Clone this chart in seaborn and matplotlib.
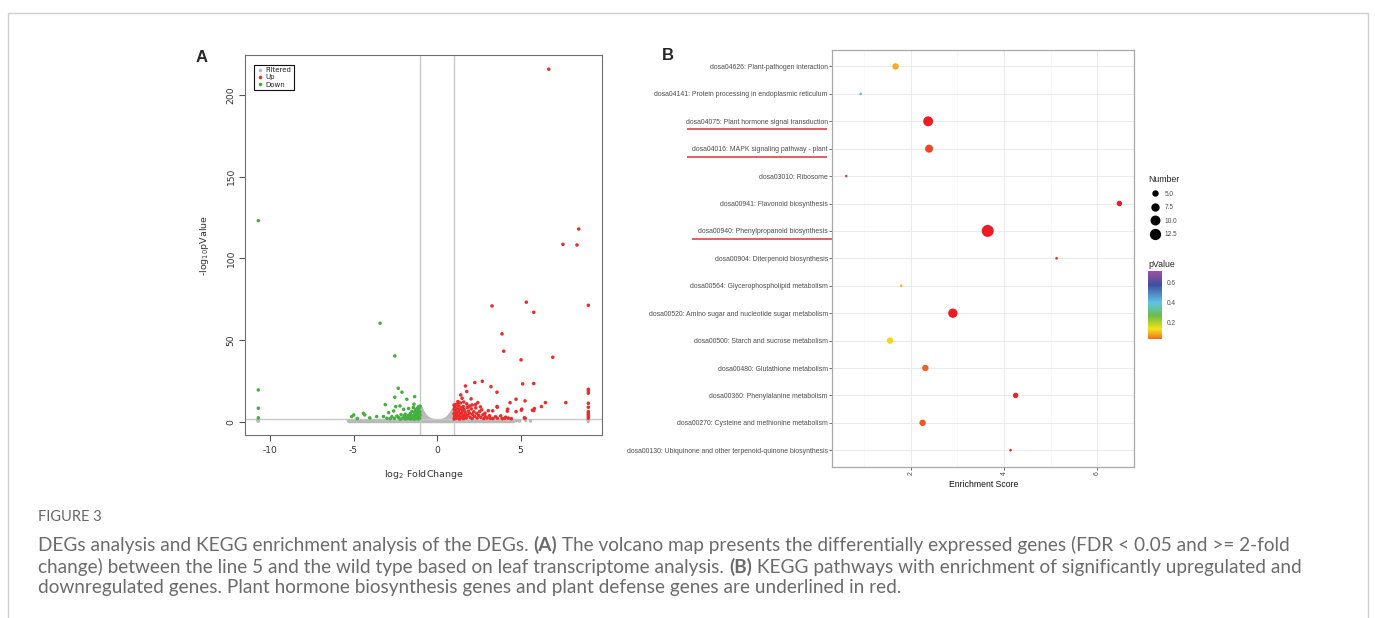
import matplotlib
matplotlib.use("Agg")
import matplotlib.pyplot as plt
import matplotlib.transforms as mtransforms
from matplotlib.colors import LinearSegmentedColormap, Normalize
from matplotlib.cm import ScalarMappable
from matplotlib.lines import Line2D
from matplotlib.patches import Rectangle
import pandas as pd
import seaborn as sns

# ---------------- Panel A: volcano plot (log2FC, -log10 p) ----------------
up_points = [
    (6.69, 215.7), (8.48, 117.9), (7.54, 108.5), (8.38, 108.1),
    (3.29, 70.8), (5.35, 73.1), (5.79, 66.9), (9.06, 71.2), (3.89, 53.7),
    (3.99, 43.1), (5.03, 37.8), (6.93, 39.4),
    (5.79, 23.3), (5.13, 23.1), (2.71, 24.7), (2.26, 23.9), (3.23, 21.4),
    (3.59, 18.0), (1.70, 21.8), (1.42, 16.3), (1.78, 18.4), (7.71, 11.6),
    (6.49, 11.6), (6.25, 9.2), (5.79, 6.7), (5.27, 12.7), (4.73, 13.7),
    (4.37, 11.6), (5.07, 7.6), (5.23, 2.3), (4.23, 7.6), (3.59, 9.2),
    (1.50, 14.3), (1.28, 11.6), (2.04, 13.9), (2.44, 11.6), (1.78, 10.8),
    (1.57, 9.2), (2.10, 10.2), (2.68, 7.2), (3.07, 6.7), (3.33, 6.6),
    (3.61, 8.8), (4.21, 6.4), (4.73, 6.1), (5.05, 7.0), (4.27, 2.1),
    (5.27, 2.1), (5.71, 7.0), (5.83, 8.0), (3.81, 3.5), (4.11, 2.7),
    (3.61, 2.1), (3.14, 3.6), (2.87, 5.1),
    (9.06, 19.8), (9.06, 18.8), (9.06, 17.4), (9.06, 11.2), (9.06, 8.8),
    (9.06, 6.1), (9.06, 5.1), (9.06, 4.1), (9.06, 3.1), (9.06, 2.1),
    (1.02, 10.2), (1.05, 9.0), (1.03, 7.5), (1.08, 6.0), (1.02, 4.8),
    (1.06, 3.5), (1.04, 2.4), (1.03, 1.6), (1.15, 10.5), (1.18, 8.2),
    (1.12, 6.8), (1.20, 5.4), (1.14, 4.2), (1.22, 3.0), (1.16, 2.0),
    (1.30, 9.6), (1.35, 7.6), (1.28, 6.2), (1.38, 4.8), (1.32, 3.6),
    (1.40, 2.4), (1.35, 1.6), (1.45, 8.4), (1.52, 6.8), (1.48, 5.4),
    (1.55, 4.0), (1.50, 2.8), (1.58, 1.8), (1.62, 7.4), (1.68, 5.8),
    (1.72, 4.4), (1.65, 3.2), (1.75, 2.2), (1.82, 8.6), (1.88, 6.4),
    (1.85, 3.8), (1.95, 5.2), (1.98, 2.6), (2.05, 7.8), (2.12, 4.4),
    (2.10, 1.9), (2.20, 6.0), (2.25, 3.2), (2.32, 8.4), (2.38, 5.0),
    (2.40, 2.2), (2.50, 3.8), (2.55, 6.2), (2.62, 2.6), (2.75, 4.2),
    (2.80, 1.8), (2.90, 3.0), (3.00, 2.2), (3.20, 2.0), (3.35, 1.9),
    (3.50, 3.0), (3.90, 1.8), (4.05, 2.0), (4.45, 1.8), (1.25, 12.3),
    (1.40, 11.4), (1.60, 12.0), (1.95, 9.5), (2.30, 10.4), (2.60, 9.0),
]

down_points = [
    (-10.70, 123.0), (-10.70, 19.4), (-10.70, 8.2), (-10.70, 2.3),
    (-3.41, 60.2), (-2.53, 40.2), (-2.32, 20.4), (-2.10, 18.0),
    (-2.53, 14.9), (-1.34, 15.3), (-1.81, 13.7), (-3.10, 10.4),
    (-2.47, 9.2), (-2.22, 9.6), (-1.38, 10.6), (-4.41, 5.1), (-4.33, 4.1),
    (-5.11, 3.1), (-4.99, 4.1), (-3.61, 3.1), (-4.03, 2.3), (-4.77, 1.9),
    (-3.21, 3.1), (-2.90, 5.5), (-2.70, 3.0), (-3.00, 2.0), (-2.60, 6.5),
    (-2.00, 7.5), (-1.90, 4.5), (-2.30, 2.5), (-1.70, 8.0),
    (-1.02, 9.5), (-1.05, 8.5), (-1.10, 7.0), (-1.03, 6.0), (-1.08, 5.0),
    (-1.02, 4.0), (-1.06, 3.0), (-1.04, 2.0), (-1.12, 9.0), (-1.18, 8.0),
    (-1.22, 6.5), (-1.15, 5.5), (-1.25, 4.5), (-1.17, 3.5), (-1.20, 2.5),
    (-1.28, 1.8), (-1.30, 7.5), (-1.35, 5.8), (-1.40, 4.0), (-1.33, 3.0),
    (-1.45, 2.2), (-1.50, 6.2), (-1.55, 3.5), (-1.60, 5.0), (-1.62, 2.4),
    (-1.70, 3.8), (-1.75, 1.9), (-1.85, 2.8), (-1.95, 3.6), (-2.05, 2.2),
    (-2.15, 4.2), (-2.40, 3.4), (-2.55, 2.0), (-2.80, 1.8), (-1.42, 8.6),
    (-1.12, 1.6), (-1.38, 1.5), (-1.58, 1.6), (-1.90, 1.6), (-2.20, 1.5),
]

filtered_points = [
    (-10.70, 0.3), (-10.70, 1.0), (-10.72, 0.6), (9.06, 0.2), (9.06, 0.9),
    (9.06, 1.2), (-5.30, 0.4), (-5.05, 0.2), (-4.85, 0.9), (-4.55, 0.5),
    (-4.20, 0.3), (-3.95, 1.0), (-3.70, 0.4), (-3.45, 0.8), (4.75, 0.6),
    (4.95, 0.3), (5.30, 0.8), (5.60, 0.4), (4.40, 1.0), (3.95, 0.5),
]
# outline of the dense grey (filtered) cloud
filtered_env_x = [-5.3, -4.8, -4.0, -3.0, -2.0, -1.01, -1.0, -0.9, -0.8, -0.7,
                  -0.6, -0.5, -0.4, -0.3, -0.15, 0.0, 0.15, 0.3, 0.4, 0.5,
                  0.6, 0.7, 0.8, 0.9, 1.0, 1.01, 2.0, 3.0, 4.0, 4.6]
filtered_env_y = [0.4, 0.8, 1.1, 1.3, 1.3, 1.3, 9.8, 7.6, 5.6, 4.2,
                  3.1, 2.4, 1.9, 1.5, 1.2, 1.0, 1.2, 1.5, 1.9, 2.4,
                  3.2, 4.4, 5.9, 7.4, 9.2, 1.3, 1.3, 1.3, 1.1, 0.5]

# ---------------- Panel B: KEGG enrichment ----------------
pathways = [
    "dosa04626: Plant-pathogen interaction",
    "dosa04141: Protein processing in endoplasmic reticulum",
    "dosa04075: Plant hormone signal transduction",
    "dosa04016: MAPK signaling pathway - plant",
    "dosa03010: Ribosome",
    "dosa00941: Flavonoid biosynthesis",
    "dosa00940: Phenylpropanoid biosynthesis",
    "dosa00904: Diterpenoid biosynthesis",
    "dosa00564: Glycerophospholipid metabolism",
    "dosa00520: Amino sugar and nucleotide sugar metabolism",
    "dosa00500: Starch and sucrose metabolism",
    "dosa00480: Glutathione metabolism",
    "dosa00360: Phenylalanine metabolism",
    "dosa00270: Cysteine and methionine metabolism",
    "dosa00130: Ubiquinone and other terpenoid-quinone biosynthesis",
]
enrich_score = [1.67, 0.92, 2.37, 2.39, 0.61, 6.48, 3.65, 5.13, 1.79, 2.90,
                1.55, 2.31, 4.25, 2.25, 4.14]
gene_number = [5, 2, 10, 7, 2, 4, 14, 2, 2, 9, 5, 5, 4, 5, 2]
p_value = [0.09, 0.37, 0.001, 0.02, 0.72, 0.002, 0.0001, 0.006, 0.10, 0.0005,
           0.13, 0.035, 0.003, 0.03, 0.008]
underlined = [
    "dosa04075: Plant hormone signal transduction",
    "dosa04016: MAPK signaling pathway - plant",
    "dosa00940: Phenylpropanoid biosynthesis",
]
size_breaks = [5.0, 7.5, 10.0, 12.5]
pval_ticks = [0.2, 0.4, 0.6]

caption_title = "FIGURE 3"
caption_lines = [
    [("DEGs analysis and KEGG enrichment analysis of the DEGs. ", "normal"), ("(A)", "bold"),
     (" The volcano map presents the differentially expressed genes (FDR < 0.05 and >= 2-fold", "normal")],
    [("change) between the line 5 and the wild type based on leaf transcriptome analysis. ", "normal"),
     ("(B)", "bold"), (" KEGG pathways with enrichment of significantly upregulated and", "normal")],
    [("downregulated genes. Plant hormone biosynthesis genes and plant defense genes are underlined in red.", "normal")],
]

sns.set_theme(style="white")
plt.rcParams["font.family"] = ["Liberation Sans", "DejaVu Sans"]
plt.rcParams["axes.unicode_minus"] = False

W, H = 1375, 618
fig = plt.figure(figsize=(W / 100, H / 100), dpi=100)
fig.patch.set_facecolor("white")


def fx(px):
    return px / W


def fy(py):
    return 1 - py / H


# ---------- volcano ----------
ax_a = fig.add_axes([fx(245.3), fy(435), fx(601.7) - fx(245.3), (435 - 55) / H])
grey, red, green = "#b9b9b9", "#ee2a2a", "#44b03f"

ax_a.fill_between(filtered_env_x, 0, filtered_env_y, color=grey, lw=1.6, zorder=1)
vol = pd.DataFrame(
    [(x, y, "Filtered") for x, y in filtered_points]
    + [(x, y, "Up") for x, y in up_points]
    + [(x, y, "Down") for x, y in down_points],
    columns=["log2fc", "logp", "group"])
sns.scatterplot(data=vol, x="log2fc", y="logp", hue="group",
                palette={"Filtered": grey, "Up": red, "Down": green},
                s=6.5, linewidth=0, legend=False, ax=ax_a, zorder=3)
ax_a.axvline(-1, color="#c8c8c8", lw=1, zorder=2)
ax_a.axvline(1, color="#c8c8c8", lw=1, zorder=2)
ax_a.axhline(1.3, color="#c8c8c8", lw=1, zorder=2)
ax_a.set_xlim(-11.48, 9.86)
ax_a.set_ylim(-8.2, 224.4)
ax_a.set_xticks([-10, -5, 0, 5])
ax_a.set_yticks([0, 50, 100, 150, 200])
ax_a.tick_params(axis="both", length=4, width=0.8, color="#555555", labelsize=6.6,
                 labelcolor="#333333", labelfontfamily="DejaVu Sans", direction="out",
                 bottom=True, left=True)
ax_a.tick_params(axis="x", pad=4)
ax_a.tick_params(axis="y", pad=3)
for lbl in ax_a.get_yticklabels():
    lbl.set_rotation(90)
    lbl.set_va("center")
for sp in ax_a.spines.values():
    sp.set_color("#6e6e6e")
    sp.set_linewidth(0.8)
ax_a.set_xlabel("log$_2$ FoldChange", fontsize=6.8, color="#333333", family="DejaVu Sans")
ax_a.set_ylabel("-log$_{10}$pValue", fontsize=6.8, color="#333333", family="DejaVu Sans")
ax_a.xaxis.set_label_coords(0.5, -0.088)
ax_a.yaxis.set_label_coords(-0.097, 0.5)
ax_a.grid(False)

handles = [Line2D([], [], ls="", marker="o", ms=2.6, mew=0, color=c) for c in (grey, red, green)]
leg_a = ax_a.legend(handles, ["Filtered", "Up", "Down"], loc="upper left",
                    bbox_to_anchor=((254.3 - 245.3) / 356.4, (435 - 65) / 380),
                    borderaxespad=0, fancybox=False, edgecolor="#111111", framealpha=1,
                    prop={"family": "DejaVu Sans", "size": 5}, handlelength=0.8,
                    handletextpad=0.45, borderpad=0.35, labelspacing=0.15)
leg_a.get_frame().set_linewidth(0.8)
for t in leg_a.get_texts():
    t.set_color("#222222")

# ---------- KEGG bubble plot ----------
ax_b = fig.add_axes([fx(832.3), fy(466.7), fx(1134.3) - fx(832.3), (466.7 - 50) / H])
stops_v = [0.0, 0.03, 0.07, 0.14, 0.27, 0.40, 0.58, 0.72]
stops_c = ["#ed1c24", "#f15a24", "#f7931e", "#f4e31a", "#6cbd45", "#5ec5e6", "#3f4f9f", "#a34fa2"]
pval_norm = Normalize(vmin=0.0, vmax=0.72)
pval_cmap = LinearSegmentedColormap.from_list(
    "pval", [(v / 0.72, c) for v, c in zip(stops_v, stops_c)])

n_min, n_max, s_min, s_max = 2, 14, 3.7, 74.6
kegg = pd.DataFrame({"pathway": pathways, "score": enrich_score,
                     "number": gene_number, "pvalue": p_value})
sns.scatterplot(data=kegg, x="score", y="pathway", hue="pvalue", size="number",
                palette=pval_cmap, hue_norm=pval_norm, sizes=(s_min, s_max),
                size_norm=(n_min, n_max), linewidth=0, legend=False, ax=ax_b, zorder=3)
ax_b.set_xlim(0.31, 6.8)
ax_b.set_ylim(len(pathways) - 1 + 0.6, -0.6)
ax_b.set_xticks([2, 4, 6])
ax_b.set_xticks([1, 3, 5], minor=True)
ax_b.set_yticks(range(len(pathways)))
ax_b.set_yticklabels(pathways)
ax_b.grid(True, which="major", color="#ebebeb", lw=0.7)
ax_b.grid(True, which="minor", axis="x", color="#f3f3f3", lw=0.4)
ax_b.set_axisbelow(True)
ax_b.tick_params(axis="both", which="major", length=2, width=0.6, color="#555555",
                 labelsize=4.95, labelcolor="#4d4d4d", pad=1.2, bottom=True, left=True)
ax_b.tick_params(axis="both", which="minor", length=0)
for lbl in ax_b.get_xticklabels():
    lbl.set_rotation(90)
for sp in ax_b.spines.values():
    sp.set_color("#a8a8a8")
    sp.set_linewidth(0.9)
ax_b.set_xlabel("Enrichment Score", fontsize=6.2, color="#111111")
ax_b.set_ylabel("")
ax_b.xaxis.set_label_coords(0.5, -0.031)

# red underlines beneath selected pathway labels
ul_trans = mtransforms.blended_transform_factory(ax_b.transAxes, ax_b.transData)
for name in underlined:
    i = pathways.index(name)
    x0 = -0.464 if name.startswith("dosa00940") else -0.482
    x1 = 0.0 if name.startswith("dosa00940") else -0.0185
    ax_b.plot([x0, x1], [i + 0.29, i + 0.29], color="#d8343a", lw=1.1,
              transform=ul_trans, clip_on=False, solid_capstyle="butt")

# size legend
size_handles = [Line2D([], [], ls="", marker="o", mew=0, color="black",
                       ms=(s_min + (n - n_min) / (n_max - n_min) * (s_max - s_min)) ** 0.5)
                for n in size_breaks]
leg_b = fig.legend(size_handles, [f"{n:.1f}" for n in size_breaks], title="Number",
                   loc="upper left", bbox_to_anchor=(fx(1148), fy(175)), frameon=False,
                   fontsize=4.7, title_fontsize=6.3, alignment="left", borderpad=0,
                   borderaxespad=0, handlelength=2.2, handletextpad=0.3, labelspacing=1.0)
for t in leg_b.get_texts():
    t.set_color("#4d4d4d")

# colour bar
cax = fig.add_axes([fx(1148.3), fy(339), 14 / W, (339 - 270.7) / H])
cb = fig.colorbar(ScalarMappable(norm=pval_norm, cmap=pval_cmap), cax=cax, ticks=pval_ticks)
cb.outline.set_visible(False)
cax.set_ylim(0.04, 0.72)
cax.tick_params(length=0, labelsize=4.7, labelcolor="#4d4d4d", pad=3)
cax.set_title("pValue", loc="left", fontsize=6.3, pad=2.5)

# ---------- panel letters, caption and frame ----------
fig.text(fx(196), fy(57), "A", fontsize=12, fontweight="bold", va="center", ha="left")
fig.text(fx(662), fy(55), "B", fontsize=12, fontweight="bold", va="center", ha="left")

cap_ax = fig.add_axes([0, 0, 1, 1], zorder=-1)
cap_ax.set_axis_off()
cap_ax.add_patch(Rectangle((fx(8), -0.1), fx(1368) - fx(8), fy(13) + 0.1,
                           transform=cap_ax.transAxes, fill=False, ec="#cfcfcf", lw=1))
cap_style = dict(family=["Lato", "DejaVu Sans"], color="#6b6b6b", fontsize=13.7)
cap_ax.text(fx(38), fy(517), caption_title, family=["Lato", "DejaVu Sans"], color="#666666",
            fontsize=10.5, va="center", ha="left", transform=cap_ax.transAxes)
for k, pieces in enumerate(caption_lines):
    y = fy(545 + 21.5 * k)
    t = cap_ax.text(fx(38), y, pieces[0][0], fontweight=pieces[0][1], va="center",
                    ha="left", transform=cap_ax.transAxes, **cap_style)
    for txt, wt in pieces[1:]:
        t = cap_ax.annotate(txt, xy=(1, 0), xycoords=t, va="bottom", ha="left",
                            fontweight=wt, **cap_style)

fig.savefig("out.png", dpi=100, facecolor="white")
